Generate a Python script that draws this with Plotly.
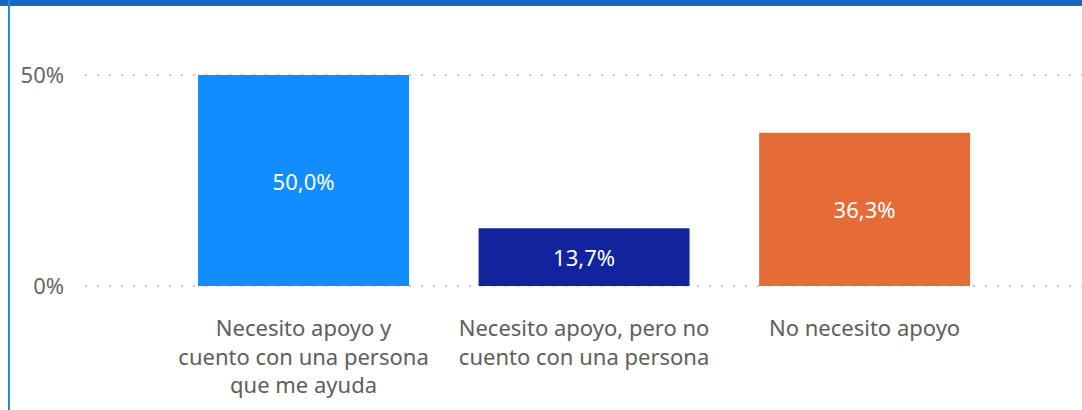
import plotly.graph_objects as go

categories = [
    "Necesito apoyo y<br>cuento con una persona<br>que me ayuda",
    "Necesito apoyo, pero no<br>cuento con una persona",
    "No necesito apoyo",
]
values = [50.0, 13.7, 36.3]
colors = ["#118DFF", "#12239E", "#E66C37"]
ytick_vals = [0, 50]
ytick_text = ["0%", "50%"]

W, H = 1082, 410
ML, MR, MT, MB = 85, 0, 40, 114
PW, PH = W - ML - MR, H - MT - MB

labels = [f"{v:.1f}".replace(".", ",") + "%" for v in values]
FONT = "Noto Sans"

fig = go.Figure(
    go.Bar(
        x=list(range(len(categories))),
        y=values,
        marker=dict(color=colors, line=dict(width=0)),
        text=labels,
        textposition="inside",
        insidetextanchor="middle",
        textangle=0,
        textfont=dict(color="white", size=22, family=FONT),
        width=0.752,
        hoverinfo="skip",
    )
)

fig.update_layout(
    width=W,
    height=H,
    margin=dict(l=ML, r=MR, t=MT, b=MB, pad=0),
    paper_bgcolor="white",
    plot_bgcolor="white",
    font=dict(family=FONT, color="#605E5C", size=22),
    showlegend=False,
    uniformtext=dict(mode=False),
    xaxis=dict(
        range=[-0.779, 2.775],
        tickvals=list(range(len(categories))),
        ticktext=categories,
        showgrid=False,
        zeroline=False,
        showline=False,
        ticks="",
        tickfont=dict(size=22, color="#605E5C"),
        ticklabelstandoff=17,
        fixedrange=True,
    ),
    yaxis=dict(
        range=[-2.37, 58.3],
        tickvals=ytick_vals,
        ticktext=ytick_text,
        showgrid=True,
        gridcolor="#C8C8C8",
        gridwidth=1.5,
        griddash="2px,10px",
        zeroline=False,
        showline=False,
        ticks="",
        tickfont=dict(size=22, color="#666666"),
        ticklabelstandoff=20,
        fixedrange=True,
    ),
    shapes=[
        # top blue band of the visual container
        dict(type="rect", xref="paper", yref="paper",
             x0=(0 - ML) / PW, x1=(W - ML) / PW,
             y0=(H - MB - 6) / PH, y1=(H - MB) / PH,
             fillcolor="#1469C4", line=dict(width=0), layer="above"),
        # left blue border line
        dict(type="rect", xref="paper", yref="paper",
             x0=(8 - ML) / PW, x1=(10 - ML) / PW,
             y0=(0 - MB) / PH, y1=(H - MB) / PH,
             fillcolor="#2B88D8", line=dict(width=0), layer="above"),
    ],
)

fig.write_html(
    "out.html",
    config={"displayModeBar": False},
    post_script="document.body.style.margin='0';document.body.style.overflow='hidden';",
)
